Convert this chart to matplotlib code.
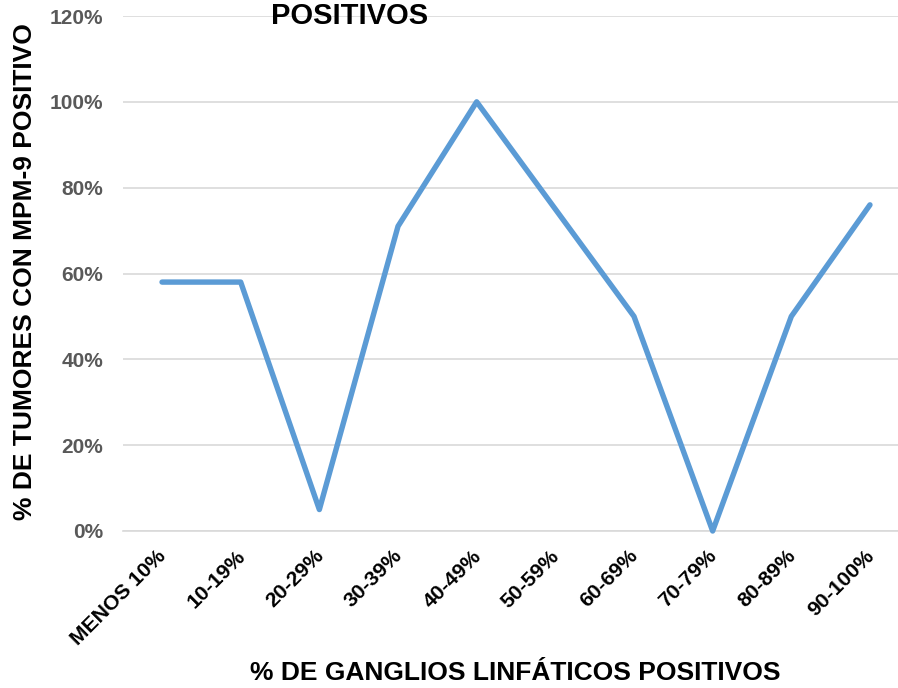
import matplotlib
matplotlib.use("Agg")
import matplotlib.pyplot as plt
import matplotlib.transforms as mtransforms
from matplotlib.ticker import PercentFormatter

plt.rcParams['font.family'] = ['Liberation Sans', 'DejaVu Sans']

# data
categories = ['MENOS 10%', '10-19%', '20-29%', '30-39%', '40-49%',
              '50-59%', '60-69%', '70-79%', '80-89%', '90-100%']
pct_positive = [0.58, 0.58, 0.05, 0.71, 1.00, 0.75, 0.50, 0.00, 0.50, 0.76]
y_ticks = [0, 0.2, 0.4, 0.6, 0.8, 1.0, 1.2]

W, H = 898, 688
fig = plt.figure(figsize=(W / 100, H / 100), dpi=100)
ax = fig.add_axes([122.7 / W, (H - 531) / H, 786.6 / W, 515 / H])

x = range(len(categories))
ax.plot(x, pct_positive, color='#5B9BD5', linewidth=3.9,
        solid_capstyle='round', solid_joinstyle='round', clip_on=False, zorder=3)

ax.set_xlim(-0.5, len(categories) - 0.5)
ax.set_ylim(0, 1.2)
ax.set_yticks(y_ticks)
ax.yaxis.set_major_formatter(PercentFormatter(1.0, decimals=0))
ax.grid(axis='y', color='#D9D9D9', linewidth=1.2)
ax.set_axisbelow(True)
for s in ['top', 'right', 'left']:
    ax.spines[s].set_visible(False)
ax.spines['bottom'].set_color('#D9D9D9')
ax.spines['bottom'].set_linewidth(1.2)

ax.tick_params(axis='both', length=0)
ax.tick_params(axis='y', pad=14, labelsize=15, labelcolor='#595959')
for lab in ax.get_yticklabels():
    lab.set_fontweight('bold')

ax.set_xticks(list(x))
ax.set_xticklabels(categories, rotation=45, ha='right', va='top',
                   fontsize=15.2, fontweight='bold')
ax.tick_params(axis='x', pad=11)
offset = mtransforms.ScaledTranslation(8 / 100, 0, fig.dpi_scale_trans)
for lab in ax.get_xticklabels():
    lab.set_transform(lab.get_transform() + offset)

fig.text(350 / W, 1 - 16 / H, 'POSITIVOS', ha='center', va='center',
         fontsize=21, fontweight='bold')
fig.text(515 / W, 1 - 673 / H, '% DE GANGLIOS LINFÁTICOS POSITIVOS',
         ha='center', va='center', fontsize=19, fontweight='bold')
fig.text(25 / W, 1 - 272 / H, '% DE TUMORES CON MPM-9 POSITIVO',
         ha='center', va='center', rotation=90, fontsize=19, fontweight='bold')

fig.savefig('out.png', dpi=100)
